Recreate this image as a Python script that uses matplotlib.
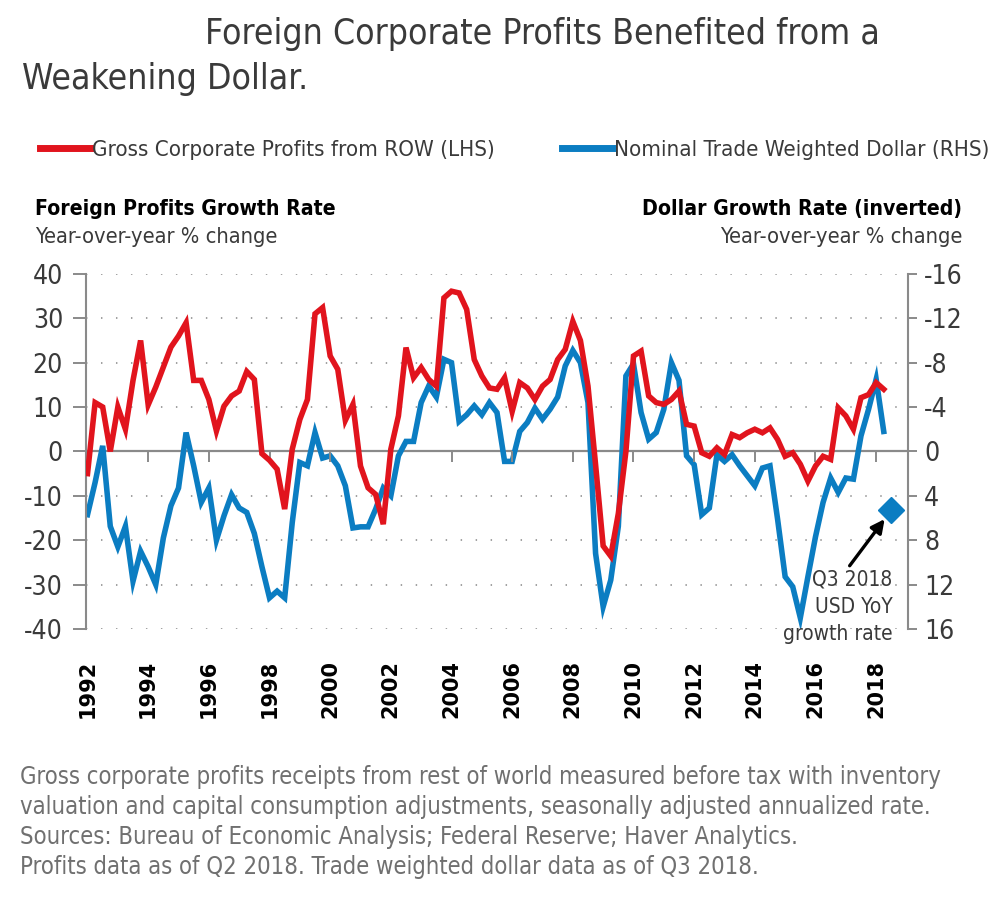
import numpy as np
import matplotlib.pyplot as plt
from matplotlib.lines import Line2D

plt.rcParams['font.family'] = ['DejaVu Sans']
plt.rcParams['font.stretch'] = 'condensed'
plt.rcParams['axes.unicode_minus'] = False

# quarterly data, Q1 1992 .. Q2 2018
profits = [-5, 11, 10, 0,
           10, 5, 16, 25,
           10.5, 14.5, 19, 23.5,
           26, 29, 16, 16,
           11.7, 4.6, 10.2, 12.5,
           13.6, 18, 16.2, -0.5,
           -2, -4, -13, 0.5,
           7.2, 11.7, 31, 32.4,
           21.5, 18.5, 7, 10.6,
           -3.3, -8.2, -9.7, -16.4,
           0.5, 8, 23.4, 16.6,
           18.9, 16.2, 14.7, 34.6,
           36.1, 35.7, 32, 20.7,
           17, 14.3, 14, 16.6,
           9, 15.5, 14.3, 11.7,
           14.7, 16.2, 20.7, 23,
           29.3, 25, 14.7, -3,
           -21.3, -23.6, -14, 0,
           21.5, 22.6, 12.5, 11,
           10.6, 11.7, 13.6, 6.1,
           5.7, -0.3, -1.1, 0.8,
           -0.7, 3.8, 3.1, 4.2,
           5, 4.2, 5.3, 2.7,
           -1.1, -0.3, -2.9, -6.7,
           -3.3, -1.1, -1.8, 9.8,
           8, 5, 12.1, 12.8,
           15.5, 14]

dollar = [5.7, 2.8, -0.5, 6.75,
          8.6, 6.75, 11.7, 9.0,
          10.4, 12.0, 7.8, 4.9,
          3.3, -1.7, 1.3, 4.6,
          3.3, 8.0, 5.8, 3.9,
          5.1, 5.5, 7.4, 10.4,
          13.2, 12.6, 13.2, 6.4,
          1.0, 1.3, -1.7, 0.6,
          0.4, 1.3, 3.1, 6.9,
          6.8, 6.8, 5.2, 3.3,
          4.0, 0.4, -0.9, -0.9,
          -4.4, -5.9, -4.9, -8.3,
          -8.0, -2.7, -3.3, -4.1,
          -3.3, -4.4, -3.5, 0.9,
          0.9, -1.8, -2.6, -3.9,
          -2.9, -3.8, -4.9, -7.7,
          -9.1, -8.0, -4.4, 9.2,
          14, 11.6, 6.75, -6.8,
          -7.9, -3.5, -1.1, -1.7,
          -3.8, -8.0, -6.4, 0.4,
          1.2, 5.7, 5.1, 0.3,
          0.9, 0.3, 1.3, 2.2,
          3.1, 1.5, 1.3, 6.1,
          11.3, 12.2, 15, 11.3,
          7.7, 4.6, 2.4, 3.7,
          2.4, 2.5, -1.4, -3.8,
          -6.5, -1.8]

dates = 1992 + np.arange(len(profits)) / 4

# Q3 2018 dollar point
q3_date = 2018.5
q3_usd = 5.3

years = list(range(1992, 2019, 2))
lhs_ticks = list(range(-40, 41, 10))
rhs_ticks = list(range(-16, 17, 4))

red = '#e1141d'
blue = '#0b7dc2'
grey = '#8a8a8a'
dark = '#3a3a3a'

fig = plt.figure(figsize=(10, 9.01), dpi=100)
ax = fig.add_axes([0.086, 0.302, 0.822, 0.394])
ax2 = ax.twinx()
ax.set_zorder(2)
ax2.set_zorder(1)
ax.patch.set_visible(False)

# dollar (inverted, RHS)
ax2.set_ylim(16, -16)
ax2.set_yticks(rhs_ticks)
ax2.set_yticklabels([str(t) for t in rhs_ticks])
ax2.grid(axis='y', linestyle=(0, (0.8, 7.5)), color='#999999', linewidth=1.3)
ax2.set_axisbelow(True)
ax2.axhline(0, color=grey, lw=1.6, zorder=1.5)
ax2.plot(dates, dollar, color=blue, lw=4, zorder=2, solid_joinstyle='miter')
ax2.plot([q3_date], [q3_usd], marker='D', color=blue, markersize=13, ls='none', zorder=3)

ax2.annotate('', xy=(q3_date, q3_usd), xytext=(-30, -40), textcoords='offset points',
             arrowprops=dict(arrowstyle='-|>', color='black', lw=2.4, shrinkA=0, shrinkB=8,
                             mutation_scale=20))
ax2.annotate('Q3 2018\nUSD YoY\ngrowth rate', xy=(q3_date, q3_usd), xytext=(1, -43),
             textcoords='offset points', ha='right', va='top', multialignment='right',
             fontsize=15, color=dark, linespacing=1.45)

# profits (LHS)
ax.plot(dates, profits, color=red, lw=4, zorder=3, solid_joinstyle='miter')
ax.set_ylim(-40, 40)
ax.set_yticks(lhs_ticks)
ax.set_xlim(1991.95, 2019.05)
ax.set_xticks(years)

for s in ['top', 'right']:
    ax.spines[s].set_visible(False)
ax.spines['bottom'].set_position(('data', 0))
ax.spines['bottom'].set_visible(False)
ax.spines['left'].set_color(grey)
ax.spines['left'].set_linewidth(1.5)
for s in ['top', 'left', 'bottom']:
    ax2.spines[s].set_visible(False)
ax2.spines['right'].set_color(grey)
ax2.spines['right'].set_linewidth(1.5)

ax.tick_params(axis='x', direction='out', length=8, width=1.4, color=grey, labelbottom=False)
ax.tick_params(axis='y', direction='out', length=9.5, width=1.4, color=grey,
               labelsize=19, labelcolor=dark, pad=7)
ax2.tick_params(axis='y', direction='out', length=6.5, width=1.4, color=grey,
                labelsize=19, labelcolor=dark, pad=5)

for yr in years:
    ax.text(yr, -0.087, str(yr), transform=ax.get_xaxis_transform(), rotation=90,
            ha='center', va='top', fontsize=15, fontweight='bold', color='black',
            fontstretch='normal')

# titles and texts
fig.text(0.205, 1 - 44 / 901, 'Foreign Corporate Profits Benefited from a', fontsize=25.5,
         color=dark, va='baseline')
fig.text(0.022, 1 - 89 / 901, 'Weakening Dollar.', fontsize=25.5, color=dark, va='baseline')

handles = [Line2D([], [], color=red, lw=5), Line2D([], [], color=blue, lw=5)]
fig.legend(handles, ['Gross Corporate Profits from ROW (LHS)', 'Nominal Trade Weighted Dollar (RHS)'],
           loc='center left', bbox_to_anchor=(0.04, 1 - 150 / 901), ncol=2, frameon=False,
           handlelength=2.25, handletextpad=0.1, columnspacing=3.0, borderaxespad=0, borderpad=0,
           labelcolor=dark, prop={'size': 16, 'stretch': 'condensed'})

fig.text(0.035, 1 - 215 / 901, 'Foreign Profits Growth Rate', fontsize=15.2, fontweight='bold',
         color='black', va='baseline')
fig.text(0.035, 1 - 243 / 901, 'Year-over-year % change', fontsize=15.7, color=dark, va='baseline')
fig.text(0.962, 1 - 215 / 901, 'Dollar Growth Rate (inverted)', fontsize=15.2, fontweight='bold',
         color='black', va='baseline', ha='right')
fig.text(0.962, 1 - 243 / 901, 'Year-over-year % change', fontsize=15.7, color=dark, va='baseline',
         ha='right')

notes = ['Gross corporate profits receipts from rest of world measured before tax with inventory',
         'valuation and capital consumption adjustments, seasonally adjusted annualized rate.',
         'Sources: Bureau of Economic Analysis; Federal Reserve; Haver Analytics.',
         'Profits data as of Q2 2018. Trade weighted dollar data as of Q3 2018.']
for i, line in enumerate(notes):
    fig.text(0.02, 1 - (784 + 30 * i) / 901, line, fontsize=17.1, color='#707070', va='baseline')

fig.savefig('out.png', dpi=100)
